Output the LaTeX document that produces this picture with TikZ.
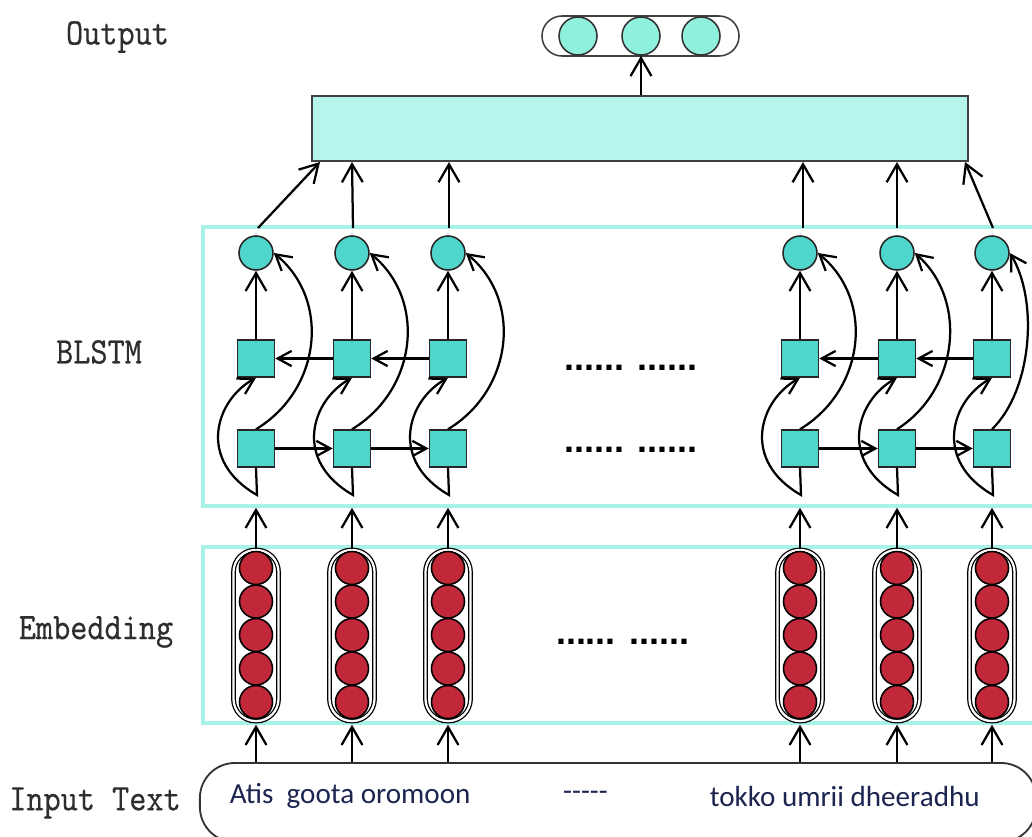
\documentclass[tikz,border=0pt]{standalone}
\usepackage{fontspec}
\newfontfamily\labfont{lmmono10-regular.otf}[FakeStretch=0.87, FakeBold=0.3]
\newfontfamily\wordfont{Carlito}
\newfontfamily\dotfont{Liberation Sans}
\usetikzlibrary{arrows.meta}
\definecolor{cellcyan}{HTML}{4FD6CC}
\definecolor{outcyan}{HTML}{8FF0DE}
\definecolor{densefill}{HTML}{B4F5EC}
\definecolor{framecyan}{HTML}{A8F3E8}
\definecolor{embred}{HTML}{C1283A}
\definecolor{wordblue}{HTML}{1C2450}
\definecolor{labgray}{HTML}{2E2E2E}

\begin{document}
\begin{tikzpicture}[x=0.025cm, y=-0.025cm, line width=1.6pt,
  arr/.style={-{Straight Barb[length=4.5mm,width=5.2mm]}},
  harr/.style={-{Straight Barb[length=3.5mm,width=3.8mm]}},
  carr/.style={-{Straight Barb[length=3.8mm,width=4.4mm]}},
  cellbox/.style={draw=black!85, fill=cellcyan, minimum size=0.925cm, inner sep=0pt, line width=1.1pt},
  celldot/.style={circle, draw=black!85, fill=cellcyan, minimum size=0.85cm, inner sep=0pt, line width=1.1pt},
  embdot/.style={circle, draw=black, fill=embred, minimum size=0.825cm, inner sep=0pt, line width=1.1pt},
  outdot/.style={circle, draw=black!80, fill=outcyan, minimum size=0.95cm, inner sep=0pt, line width=1.1pt},
  capsule/.style={draw=black, double=white, double distance=1.6pt, line width=0.9pt,
    minimum width=1.125cm, minimum height=4.275cm, rounded corners=0.55cm, inner sep=0pt},
  frame/.style={draw=framecyan, line width=2.4pt, inner sep=0pt},
  layerlab/.style={font=\labfont\fontsize{26.7}{26.7}\selectfont, text=labgray},
  wordlab/.style={font=\wordfont\fontsize{20.7}{20.7}\selectfont, text=wordblue},
  dotlab/.style={font=\dotfont\bfseries\fontsize{25.5}{25.5}\selectfont, anchor=base, inner sep=0pt}]

\useasboundingbox (0,0) rectangle (1032,836);
\clip (0,0) rectangle (1032,836);
\fill[white] (0,0) rectangle (1032,836);

% layer names
\node[layerlab] (lout) at (117.5,37) {Output};
\node[layerlab] (lbl) at (99,352) {BLSTM};
\node[layerlab] (lemb) at (96,632) {Embedding};
\node[layerlab] (linp) at (95,803) {Input Text};

% output vector
\node[draw=black!75, line width=1.1pt, minimum width=4.925cm, minimum height=1cm,
      rounded corners=0.5cm, inner sep=0pt] (oc) at (640.5,36) {};
\node[outdot] (oc1) at (578,36) {};
\node[outdot] (oc2) at (641,36) {};
\node[outdot] (oc3) at (701,36) {};

% dense layer
\node[draw=black!75, fill=densefill, line width=1.3pt, minimum width=16.4cm,
      minimum height=1.625cm, inner sep=0pt] (dense) at (640,128.5) {};
\draw[arr] (dense.north -| oc2) -- (oc2.south);

% layer frames
\node[frame, minimum width=21.05cm, minimum height=6.975cm] (blstm) at (624,366.5) {};
\node[frame, minimum width=21.05cm, minimum height=4.4cm] (emb) at (624,635) {};

% input sentence
\node[draw=black!80, line width=1.3pt, minimum width=20.9cm, minimum height=1.975cm,
      rounded corners=0.875cm, inner sep=0pt] (inp) at (618,802.5) {};
\node[wordlab, anchor=west] (w1) at (224,796) {Atis\ \ goota oromoon};
\node[wordlab] (w2) at (585.5,796) {-----};
\node[wordlab, anchor=west] (w3) at (704,796) {tokko umrii dheeradhu};

% ellipsis between the two groups of columns
\node[dotlab] (d1) at (631,370) {...... ......};
\node[dotlab] (d2) at (631,452) {...... ......};
\node[dotlab] (d3) at (622.5,644) {...... ......};

% columns: cells, embeddings and their links
\foreach \i/\x/\f in {1/256/1,2/352/1,3/448/1,4/800/1,5/897/0.95,6/992/0.62} {
  \node[celldot] (c\i) at (\x,253) {};
  \node[cellbox] (u\i) at (\x,358.5) {};
  \node[cellbox] (l\i) at (\x,448.5) {};
  \coordinate (k\i) at (\x+1,495);
  \node[capsule] (e\i) at (\x,635.5) {};
  \foreach \j/\y in {1/568,2/601.5,3/635,4/668.5,5/702}
    \node[embdot] (r\i\j) at (\x,\y) {};
  \draw[arr] (u\i.north) -- (c\i.south);
  \draw[carr] (l\i.south) -- (k\i) .. controls (\x-60,460) and (\x-40,400) .. (u\i.south);
  \draw[carr] (l\i.north) .. controls (\x+65*\f,390) and (\x+75*\f,300) .. (c\i.east);
  \draw[arr] (e\i.north) -- (e\i.north |- blstm.south);
  \draw[arr] (e\i.south |- inp.north) -- (e\i.south |- emb.south);
}

% recurrent links
\foreach \a/\b in {1/2,2/3,4/5,5/6} {
  \draw[harr] (u\b.west) -- (u\a.east);
  \draw[harr] (l\a.east) -- (l\b.west);
}

% links into the dense layer
\foreach \i/\sx/\tx in {1/258/320,2/353/352,3/449/449,4/803/803,5/897/897,6/993/965} {
  \coordinate (s\i) at (\sx,228);
  \coordinate (t\i) at (\tx,162);
  \draw[arr] (s\i) -- (t\i);
}
\end{tikzpicture}
\end{document}
